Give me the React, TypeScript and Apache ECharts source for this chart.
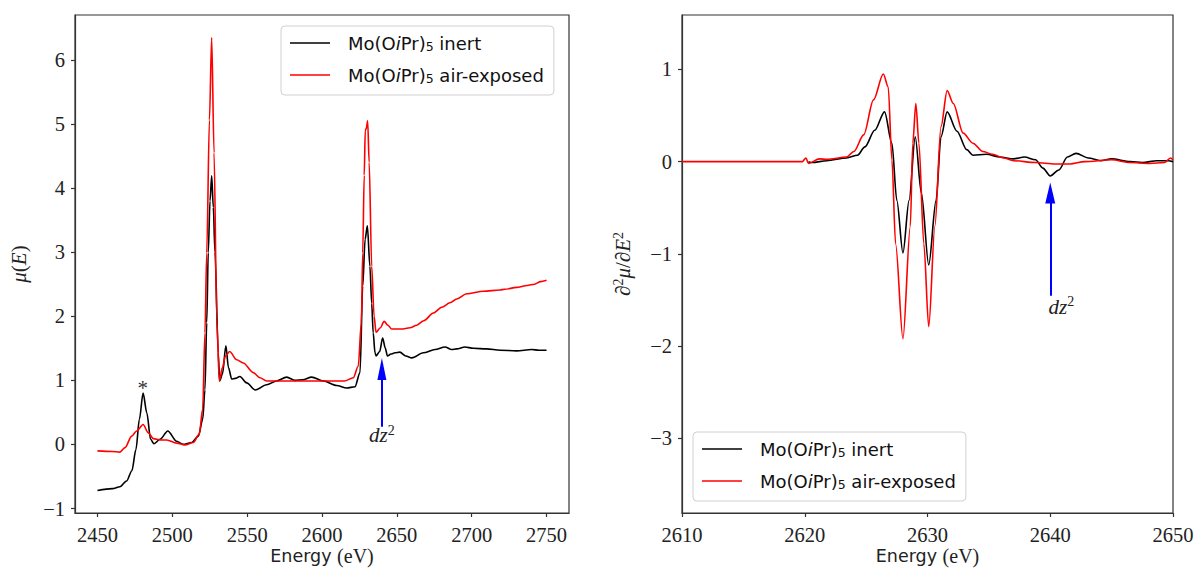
import React, { useEffect, useRef } from "react";
import * as echarts from "echarts";

// ---------- data ----------
// Left panel: mu(E)
const muInertE = [2450, 2460, 2465, 2469.5, 2473, 2475.7, 2478, 2480.5, 2483, 2485.5, 2487.8, 2491.8, 2497, 2502.9, 2507.3, 2513, 2517.4, 2520.3, 2521.8, 2523, 2524, 2525.2, 2526.3, 2527.4, 2528.5, 2530.7, 2531.6, 2533.5, 2535.8, 2537.5, 2539.7, 2542, 2545.2, 2549.7, 2555.5, 2563, 2569.7, 2576.4, 2582, 2587, 2593.1, 2600.9, 2609.8, 2616.5, 2622, 2625.4, 2627.2, 2628.8, 2630.3, 2632, 2633.2, 2634.2, 2635.4, 2636.2, 2638.5, 2640.5, 2642.3, 2643.7, 2646, 2648.8, 2652, 2656, 2660, 2667.7, 2675.5, 2682.2, 2686.6, 2690, 2695.5, 2701, 2710, 2719, 2730, 2740, 2745, 2750];
const muInertV = [-0.72, -0.69, -0.66, -0.57, -0.41, -0.08, 0.39, 0.8, 0.49, 0.08, 0.01, 0.08, 0.21, 0.05, 0.0, 0.03, 0.13, 0.39, 0.85, 1.9, 2.99, 3.8, 4.19, 3.7, 3.0, 1.43, 0.99, 1.1, 1.54, 1.2, 1.02, 1.03, 1.06, 0.96, 0.85, 0.93, 0.99, 1.05, 1.0, 1.01, 1.05, 0.99, 0.92, 0.88, 0.9, 1.12, 2.47, 3.2, 3.41, 2.78, 2.2, 1.74, 1.43, 1.38, 1.45, 1.66, 1.5, 1.38, 1.41, 1.43, 1.44, 1.38, 1.35, 1.43, 1.48, 1.52, 1.48, 1.49, 1.52, 1.5, 1.49, 1.47, 1.46, 1.48, 1.47, 1.47];

const muAirE = [2450, 2460, 2465, 2468.4, 2472.9, 2476.2, 2480.5, 2484, 2487.3, 2492, 2496.3, 2502.9, 2508.5, 2514, 2518, 2520.3, 2521.8, 2523, 2524.8, 2526.3, 2527.9, 2529.7, 2531.4, 2533.5, 2535.5, 2538.3, 2543, 2547.4, 2554.1, 2558.6, 2563, 2575, 2590, 2605, 2615, 2620.9, 2624.2, 2626.3, 2627.2, 2628.2, 2628.9, 2629.6, 2630.5, 2631.5, 2633.2, 2634.8, 2636.1, 2639, 2641.5, 2644, 2646.6, 2652.8, 2658.8, 2663.3, 2668, 2674.4, 2680, 2685.5, 2690, 2696.7, 2707.8, 2718.9, 2722, 2730, 2737, 2742, 2746, 2750];
const muAirV = [-0.1, -0.11, -0.12, -0.05, 0.13, 0.21, 0.31, 0.18, 0.09, 0.07, 0.07, 0.02, -0.01, 0.03, 0.16, 0.55, 1.74, 2.99, 5.06, 6.35, 4.55, 1.95, 0.99, 1.2, 1.38, 1.45, 1.32, 1.27, 1.12, 1.04, 0.99, 0.99, 0.99, 0.99, 0.99, 1.04, 1.22, 1.9, 2.99, 4.2, 4.9, 4.93, 5.05, 4.4, 2.78, 2.0, 1.75, 1.82, 1.92, 1.86, 1.8, 1.8, 1.82, 1.86, 1.93, 2.05, 2.14, 2.21, 2.27, 2.35, 2.39, 2.41, 2.42, 2.45, 2.48, 2.5, 2.54, 2.56];

// Right panel: second derivative
const d2InertE = [2620.3, 2620.6, 2621.8, 2623.4, 2624.3, 2624.9, 2625.7, 2626.5, 2627.1, 2627.5, 2628.0, 2628.5, 2629.0, 2629.5, 2630.1, 2630.7, 2631.1, 2631.6, 2632.4, 2633.2, 2633.7, 2634.8, 2635.9, 2637, 2637.9, 2638.8, 2639.4, 2640.0, 2640.7, 2641.4, 2642.1, 2643.1, 2644.1, 2645, 2646.5, 2647.5, 2648.7, 2649.6, 2650];
const d2InertV = [0.0, -0.01, 0.01, 0.04, 0.07, 0.16, 0.34, 0.54, 0.2, -0.42, -0.99, -0.42, 0.27, -0.34, -1.12, -0.42, 0.27, 0.54, 0.33, 0.13, 0.07, 0.08, 0.05, 0.03, 0.05, 0.02, -0.07, -0.155, -0.09, 0.05, 0.09, 0.04, 0.01, 0.03, 0.0, -0.01, 0.01, 0.01, 0.0];

const d2AirE = [2610, 2615, 2619.8, 2620.1, 2620.3, 2621.2, 2621.8, 2623.4, 2624.0, 2624.8, 2625.6, 2626.4, 2626.8, 2627.1, 2627.4, 2628.0, 2628.6, 2628.8, 2629.05, 2629.3, 2629.7, 2630.1, 2630.6, 2631.1, 2631.6, 2632.1, 2632.9, 2633.7, 2634.5, 2635.3, 2636.2, 2637.0, 2638.8, 2640.4, 2641.6, 2642.8, 2645, 2646.5, 2648.1, 2649.3, 2649.8, 2650];
const d2AirV = [0, 0, 0, 0.04, -0.02, 0.03, 0.025, 0.05, 0.11, 0.29, 0.67, 0.95, 0.81, 0.02, -0.89, -1.92, -0.7, 0.2, 0.63, 0.2, -0.89, -1.79, -0.7, 0.38, 0.77, 0.63, 0.31, 0.2, 0.11, 0.08, 0.04, 0.01, -0.01, -0.025, -0.025, 0.0, 0.02, -0.01, -0.02, -0.01, 0.04, 0.02];

// Tick labels
const muTicks = [-1, 0, 1, 2, 3, 4, 5, 6];
const energyTicksLeft = [2450, 2500, 2550, 2600, 2650, 2700, 2750];
const d2Ticks = [-3, -2, -1, 0, 1];
const energyTicksRight = [2610, 2620, 2630, 2640, 2650];

const seriesNames = ["Mo(OiPr)5 inert", "Mo(OiPr)5 air-exposed"];

// ---------- helpers ----------
const zip = (xs: number[], ys: number[]) => xs.map((x, i) => [x, ys[i]]);
const SERIF = "'Liberation Serif', 'DejaVu Serif', serif";
const SANS = "'DejaVu Sans', sans-serif";
const fmtTick = (v: number) => (v < 0 ? "\u2212" + String(-v) : String(v));

const legendFormatter = (name: string) => {
  const tail = name.endsWith("inert") ? " inert" : " air-exposed";
  return `{g|}{n|Mo(O}{it|i}{n|Pr)}{sub|5}{n|${tail}}`;
};
const legendRich = {
  g: { width: 13, height: 20 },
  n: { fontFamily: SANS, fontSize: 18, lineHeight: 20, color: "#111" },
  it: { fontFamily: SANS, fontSize: 18, lineHeight: 20, color: "#111", fontStyle: "italic" },
  sub: { fontFamily: SANS, fontSize: 12.5, color: "#111", verticalAlign: "bottom" },
};

const dzLabelRich = {
  i: { fontFamily: SERIF, fontSize: 21, fontStyle: "italic", color: "#222", lineHeight: 24 },
  sup: { fontFamily: SERIF, fontSize: 14, color: "#222", verticalAlign: "top" },
};

const axisCommon = (ticks: number[], margin: number) => ({
  axisLine: { show: true, onZero: false, lineStyle: { color: "#333", width: 1.2 } },
  axisTick: { show: true, inside: false, length: 4, customValues: ticks, lineStyle: { color: "#333", width: 1.2 } },
  axisLabel: {
    customValues: ticks,
    formatter: fmtTick,
    fontFamily: SERIF,
    fontSize: 20.5,
    color: "#222",
    margin,
  },
  splitLine: { show: false },
});

const legendBase = {
  orient: "vertical",
  icon: "rect",
  itemWidth: 40,
  itemHeight: 1.6,
  itemGap: 13,
  padding: [8, 10, 10, 9],
  backgroundColor: "rgba(255,255,255,0.85)",
  borderColor: "#d0d0d0",
  borderWidth: 1,
  borderRadius: 4,
  selectedMode: false,
  data: seriesNames,
  formatter: legendFormatter,
  textStyle: { rich: legendRich },
};

const lineSeries = (name: string, data: number[][], color: string, idx: number, extra: any = {}) => ({
  type: "line",
  name,
  xAxisIndex: idx,
  yAxisIndex: idx,
  data,
  symbol: "none",
  showSymbol: false,
  smooth: 0.3,
  smoothMonotone: "x",
  lineStyle: { color, width: 1.6 },
  itemStyle: { color },
  z: color === "#ff0000" ? 3 : 2,
  ...extra,
});

const arrowLine = (x: number, y0: number, y1: number, size: number[]) => ({
  silent: true,
  symbol: ["none", "triangle"],
  label: { show: false },
  lineStyle: { color: "#0000ff", width: 2, type: "solid" },
  itemStyle: { color: "#0000ff" },
  data: [
    [
      { coord: [x, y0], symbol: "none" },
      { coord: [x, y1], symbol: "triangle", symbolSize: size },
    ],
  ],
});

const textPoint = (coord: number[], formatter: string, rich: any, extraLabel: any = {}) => ({
  coord,
  symbol: "circle",
  symbolSize: 1,
  itemStyle: { color: "rgba(0,0,0,0)" },
  label: { show: true, position: "inside", formatter, rich, ...extraLabel },
});

const energyName = {
  name: "{s|Energy }{r|(eV)}",
  nameLocation: "middle",
  nameGap: 32,
  nameMoveOverlap: false,
  nameTextStyle: {
    verticalAlign: "top",
    rich: {
      s: { fontFamily: SANS, fontSize: 17.5, color: "#222", lineHeight: 21 },
      r: { fontFamily: SERIF, fontSize: 20, color: "#222", lineHeight: 21 },
    },
  },
};

const gridBase = {
  top: 15,
  height: 498,
  show: true,
  borderColor: "#333",
  borderWidth: 1.2,
  backgroundColor: "transparent",
  containLabel: false,
  outerBoundsMode: "none",
};

const option: any = {
  animation: false,
  backgroundColor: "#fff",
  grid: [
    { ...gridBase, left: 75, width: 494 },
    { ...gridBase, left: 682, width: 491 },
  ],
  xAxis: [
    { type: "value", gridIndex: 0, min: 2435, max: 2765, ...axisCommon(energyTicksLeft, 11), ...energyName },
    { type: "value", gridIndex: 1, min: 2610, max: 2650, ...axisCommon(energyTicksRight, 11), ...energyName },
  ],
  yAxis: [
    {
      type: "value",
      gridIndex: 0,
      min: -1.07,
      max: 6.7,
      ...axisCommon(muTicks, 10),
      name: "{i|\u03bc}{n|(}{i|E}{n|)}",
      nameLocation: "middle",
      nameGap: 46,
      nameRotate: 90,
      nameTextStyle: {
        rich: {
          i: { fontFamily: SERIF, fontSize: 21, fontStyle: "italic", color: "#222" },
          n: { fontFamily: SERIF, fontSize: 21, color: "#222" },
        },
      },
    },
    {
      type: "value",
      gridIndex: 1,
      min: -3.81,
      max: 1.59,
      ...axisCommon(d2Ticks, 10),
      name: "{i|\u2202}{sup|2}{i|\u03bc}{n|/}{i|\u2202E}{sup|2}",
      nameLocation: "middle",
      nameGap: 47,
      nameRotate: 90,
      nameTextStyle: {
        rich: {
          i: { fontFamily: SERIF, fontSize: 21, fontStyle: "italic", color: "#222", lineHeight: 24 },
          n: { fontFamily: SERIF, fontSize: 21, color: "#222", lineHeight: 24 },
          sup: { fontFamily: SERIF, fontSize: 14, color: "#222", verticalAlign: "top" },
        },
      },
    },
  ],
  legend: [
    { ...legendBase, left: 281, top: 26 },
    { ...legendBase, left: 693, top: 432 },
  ],
  series: [
    lineSeries(seriesNames[0], zip(muInertE, muInertV), "#000000", 0, {
      markLine: arrowLine(2640, 0.276, 1.176, [9, 22]),
      markPoint: {
        silent: true,
        data: [
          textPoint([2480.3, 0.88], "*", undefined, { fontFamily: SERIF, fontSize: 21, color: "#333" }),
          textPoint([2640, 0.14], "{i|dz}{sup|2}", dzLabelRich),
        ],
      },
    }),
    lineSeries(seriesNames[1], zip(muAirE, muAirV), "#ff0000", 0),
    lineSeries(seriesNames[0], zip(d2InertE, d2InertV), "#000000", 1, {
      markLine: arrowLine(2640, -1.455, -0.34, [10, 21]),
      markPoint: {
        silent: true,
        data: [textPoint([2640.9, -1.574], "{i|dz}{sup|2}", dzLabelRich)],
      },
    }),
    lineSeries(seriesNames[1], zip(d2AirE, d2AirV), "#ff0000", 1),
  ],
};

export default function App() {
  const ref = useRef<HTMLDivElement>(null);
  useEffect(() => {
    if (!ref.current) return;
    const chart = echarts.init(ref.current, null, { renderer: "svg" });
    chart.setOption(option);
    return () => chart.dispose();
  }, []);
  return (
    <div
      ref={ref}
      style={{ position: "absolute", left: 0, top: 0, width: 1195, height: 569, background: "#fff" }}
    />
  );
}
